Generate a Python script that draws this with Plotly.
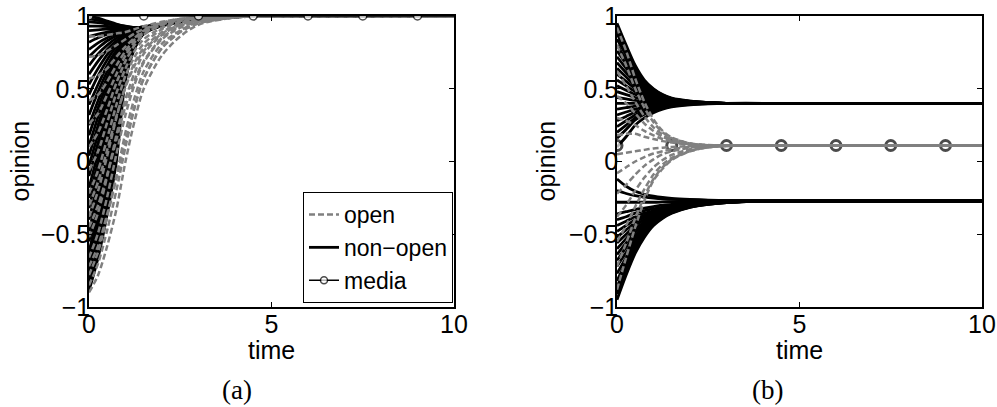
import plotly.graph_objects as go

# ---------------- data ----------------
TIME = [0, 0.25, 0.5, 0.75, 1.0, 1.25, 1.5, 2.0, 2.5, 3.0, 4.0, 5.0, 10.0]

# panel (a): open agents (grey dashed)
A_OPEN = [
    [-0.90, -0.78, -0.58, -0.33, 0.00, 0.28, 0.50, 0.73, 0.86, 0.94, 0.99, 1.0, 1.0],
    [-0.85, -0.70, -0.47, -0.20, 0.10, 0.37, 0.57, 0.78, 0.89, 0.95, 0.99, 1.0, 1.0],
    [-0.78, -0.62, -0.38, -0.10, 0.20, 0.44, 0.62, 0.81, 0.90, 0.96, 0.99, 1.0, 1.0],
    [-0.72, -0.58, -0.36, -0.12, 0.14, 0.38, 0.57, 0.78, 0.89, 0.95, 0.99, 1.0, 1.0],
    [-0.66, -0.49, -0.24, 0.05, 0.32, 0.53, 0.68, 0.84, 0.92, 0.96, 0.995, 1.0, 1.0],
    [-0.52, -0.35, -0.10, 0.18, 0.43, 0.61, 0.74, 0.87, 0.94, 0.97, 0.995, 1.0, 1.0],
    [-0.45, -0.30, -0.09, 0.15, 0.38, 0.56, 0.69, 0.85, 0.93, 0.97, 0.995, 1.0, 1.0],
    [-0.38, -0.20, 0.04, 0.30, 0.52, 0.68, 0.78, 0.89, 0.95, 0.98, 1.0, 1.0, 1.0],
    [-0.30, -0.14, 0.08, 0.31, 0.51, 0.66, 0.76, 0.88, 0.94, 0.97, 0.995, 1.0, 1.0],
    [-0.22, -0.06, 0.16, 0.39, 0.59, 0.72, 0.81, 0.91, 0.96, 0.98, 1.0, 1.0, 1.0],
    [-0.06, 0.07, 0.27, 0.47, 0.64, 0.76, 0.84, 0.92, 0.965, 0.985, 1.0, 1.0, 1.0],
    [0.10, 0.20, 0.36, 0.54, 0.69, 0.80, 0.87, 0.94, 0.97, 0.99, 1.0, 1.0, 1.0],
    [0.26, 0.33, 0.46, 0.60, 0.73, 0.82, 0.88, 0.94, 0.975, 0.99, 1.0, 1.0, 1.0],
    [0.42, 0.46, 0.55, 0.66, 0.76, 0.84, 0.89, 0.95, 0.975, 0.99, 1.0, 1.0, 1.0],
    [0.57, 0.59, 0.64, 0.72, 0.79, 0.85, 0.90, 0.95, 0.98, 0.99, 1.0, 1.0, 1.0],
    [0.72, 0.73, 0.76, 0.80, 0.84, 0.88, 0.91, 0.955, 0.98, 0.99, 1.0, 1.0, 1.0],
    [0.86, 0.86, 0.87, 0.88, 0.89, 0.91, 0.93, 0.96, 0.98, 0.99, 1.0, 1.0, 1.0],
]

# panel (a): non-open agents (black solid)
A_NONOPEN = [
    [1.00, 0.985, 0.965, 0.945, 0.93, 0.92, 0.92, 0.935, 0.96, 0.98, 0.995, 1.0, 1.0],
    [0.98, 0.97, 0.955, 0.94, 0.928, 0.92, 0.921, 0.937, 0.961, 0.98, 0.995, 1.0, 1.0],
    [0.96, 0.955, 0.945, 0.935, 0.925, 0.92, 0.922, 0.94, 0.962, 0.98, 0.995, 1.0, 1.0],
    [0.93, 0.93, 0.928, 0.925, 0.921, 0.92, 0.923, 0.941, 0.963, 0.98, 0.995, 1.0, 1.0],
    [0.90, 0.905, 0.91, 0.915, 0.918, 0.92, 0.925, 0.942, 0.965, 0.98, 0.995, 1.0, 1.0],
    [0.86, 0.875, 0.89, 0.903, 0.91, 0.917, 0.925, 0.944, 0.965, 0.98, 0.995, 1.0, 1.0],
    [0.82, 0.85, 0.875, 0.895, 0.905, 0.915, 0.925, 0.945, 0.965, 0.98, 0.995, 1.0, 1.0],
    [0.77, 0.815, 0.85, 0.878, 0.898, 0.912, 0.923, 0.945, 0.965, 0.98, 0.995, 1.0, 1.0],
    [0.72, 0.78, 0.83, 0.865, 0.89, 0.91, 0.922, 0.945, 0.965, 0.98, 0.995, 1.0, 1.0],
    [0.66, 0.74, 0.80, 0.848, 0.88, 0.905, 0.92, 0.944, 0.965, 0.98, 0.995, 1.0, 1.0],
    [0.60, 0.69, 0.77, 0.83, 0.87, 0.90, 0.918, 0.943, 0.965, 0.98, 0.995, 1.0, 1.0],
    [0.53, 0.64, 0.735, 0.81, 0.86, 0.895, 0.916, 0.942, 0.964, 0.98, 0.995, 1.0, 1.0],
    [0.46, 0.59, 0.70, 0.79, 0.85, 0.89, 0.915, 0.942, 0.964, 0.98, 0.995, 1.0, 1.0],
    [0.39, 0.53, 0.66, 0.765, 0.84, 0.885, 0.913, 0.941, 0.963, 0.98, 0.995, 1.0, 1.0],
    [0.32, 0.48, 0.62, 0.74, 0.83, 0.88, 0.912, 0.94, 0.963, 0.98, 0.995, 1.0, 1.0],
    [0.25, 0.42, 0.58, 0.715, 0.815, 0.875, 0.91, 0.94, 0.962, 0.98, 0.995, 1.0, 1.0],
    [0.18, 0.37, 0.54, 0.69, 0.80, 0.87, 0.91, 0.94, 0.962, 0.98, 0.995, 1.0, 1.0],
    [0.11, 0.31, 0.50, 0.665, 0.79, 0.865, 0.907, 0.94, 0.962, 0.98, 0.995, 1.0, 1.0],
    [0.04, 0.25, 0.46, 0.64, 0.78, 0.86, 0.905, 0.94, 0.962, 0.98, 0.995, 1.0, 1.0],
    [-0.03, 0.19, 0.415, 0.615, 0.765, 0.855, 0.902, 0.94, 0.962, 0.98, 0.995, 1.0, 1.0],
    [-0.10, 0.13, 0.37, 0.59, 0.75, 0.85, 0.90, 0.94, 0.962, 0.98, 0.995, 1.0, 1.0],
    [-0.18, 0.06, 0.325, 0.56, 0.735, 0.845, 0.90, 0.94, 0.961, 0.98, 0.995, 1.0, 1.0],
    [-0.25, 0.00, 0.28, 0.53, 0.72, 0.84, 0.90, 0.94, 0.961, 0.98, 0.995, 1.0, 1.0],
    [-0.32, -0.06, 0.23, 0.50, 0.71, 0.84, 0.898, 0.94, 0.961, 0.98, 0.995, 1.0, 1.0],
    [-0.40, -0.14, 0.18, 0.47, 0.69, 0.83, 0.895, 0.94, 0.961, 0.98, 0.995, 1.0, 1.0],
    [-0.48, -0.21, 0.13, 0.44, 0.68, 0.83, 0.893, 0.94, 0.961, 0.98, 0.995, 1.0, 1.0],
    [-0.55, -0.28, 0.08, 0.40, 0.66, 0.82, 0.89, 0.935, 0.96, 0.98, 0.995, 1.0, 1.0],
    [-0.62, -0.35, 0.01, 0.35, 0.64, 0.81, 0.888, 0.937, 0.96, 0.98, 0.995, 1.0, 1.0],
    [-0.66, -0.39, -0.02, 0.33, 0.63, 0.805, 0.886, 0.936, 0.96, 0.98, 0.995, 1.0, 1.0],
    [-0.70, -0.43, -0.05, 0.30, 0.62, 0.80, 0.885, 0.935, 0.96, 0.98, 0.995, 1.0, 1.0],
    [-0.74, -0.47, -0.10, 0.26, 0.61, 0.795, 0.884, 0.935, 0.96, 0.98, 0.995, 1.0, 1.0],
    [-0.78, -0.52, -0.16, 0.20, 0.60, 0.79, 0.882, 0.935, 0.96, 0.98, 0.995, 1.0, 1.0],
    [-0.82, -0.56, -0.22, 0.14, 0.59, 0.785, 0.881, 0.935, 0.96, 0.98, 0.995, 1.0, 1.0],
    [-0.85, -0.60, -0.30, 0.06, 0.60, 0.78, 0.88, 0.935, 0.96, 0.98, 0.995, 1.0, 1.0],
    [-0.89, -0.66, -0.36, 0.00, 0.56, 0.775, 0.878, 0.934, 0.96, 0.98, 0.995, 1.0, 1.0],
]

# panel (b): open agents (grey dashed)
B_OPEN = [
    [0.92, 0.76, 0.57, 0.41, 0.29, 0.21, 0.165, 0.125, 0.113, 0.11, 0.11, 0.11, 0.11],
    [0.80, 0.66, 0.50, 0.37, 0.27, 0.20, 0.16, 0.123, 0.112, 0.11, 0.11, 0.11, 0.11],
    [0.62, 0.52, 0.41, 0.31, 0.235, 0.185, 0.152, 0.12, 0.112, 0.11, 0.11, 0.11, 0.11],
    [0.45, 0.40, 0.33, 0.26, 0.21, 0.17, 0.145, 0.118, 0.111, 0.11, 0.11, 0.11, 0.11],
    [0.30, 0.28, 0.25, 0.21, 0.18, 0.155, 0.138, 0.117, 0.111, 0.11, 0.11, 0.11, 0.11],
    [0.18, 0.19, 0.19, 0.17, 0.155, 0.14, 0.13, 0.115, 0.11, 0.11, 0.11, 0.11, 0.11],
    [0.05, 0.06, 0.07, 0.08, 0.09, 0.095, 0.10, 0.105, 0.108, 0.11, 0.11, 0.11, 0.11],
    [-0.08, -0.04, 0.00, 0.03, 0.055, 0.07, 0.085, 0.10, 0.107, 0.11, 0.11, 0.11, 0.11],
    [-0.22, -0.16, -0.09, -0.03, 0.015, 0.05, 0.07, 0.095, 0.105, 0.109, 0.11, 0.11, 0.11],
    [-0.38, -0.30, -0.20, -0.11, -0.04, 0.01, 0.045, 0.085, 0.102, 0.108, 0.11, 0.11, 0.11],
    [-0.55, -0.44, -0.31, -0.19, -0.09, -0.02, 0.025, 0.078, 0.10, 0.107, 0.11, 0.11, 0.11],
    [-0.72, -0.56, -0.39, -0.24, -0.12, -0.04, 0.015, 0.072, 0.098, 0.107, 0.11, 0.11, 0.11],
    [-0.88, -0.66, -0.45, -0.27, -0.13, -0.05, 0.01, 0.07, 0.097, 0.106, 0.11, 0.11, 0.11],
]

# panel (b): non-open agents, upper cluster (black solid)
B_NONOPEN_UPPER = [
    [0.95, 0.80, 0.66, 0.56, 0.50, 0.46, 0.435, 0.415, 0.405, 0.40, 0.40, 0.40, 0.40],
    [0.91, 0.78, 0.645, 0.55, 0.495, 0.457, 0.433, 0.414, 0.405, 0.40, 0.40, 0.40, 0.40],
    [0.88, 0.75, 0.63, 0.54, 0.49, 0.455, 0.432, 0.413, 0.405, 0.40, 0.40, 0.40, 0.40],
    [0.84, 0.73, 0.615, 0.53, 0.482, 0.45, 0.428, 0.411, 0.404, 0.40, 0.40, 0.40, 0.40],
    [0.80, 0.70, 0.60, 0.52, 0.475, 0.445, 0.425, 0.41, 0.403, 0.40, 0.40, 0.40, 0.40],
    [0.76, 0.67, 0.58, 0.51, 0.467, 0.44, 0.422, 0.409, 0.402, 0.40, 0.40, 0.40, 0.40],
    [0.72, 0.64, 0.56, 0.50, 0.46, 0.437, 0.42, 0.408, 0.402, 0.40, 0.40, 0.40, 0.40],
    [0.68, 0.61, 0.54, 0.488, 0.452, 0.432, 0.418, 0.407, 0.401, 0.40, 0.40, 0.40, 0.40],
    [0.64, 0.58, 0.52, 0.475, 0.445, 0.428, 0.416, 0.406, 0.401, 0.40, 0.40, 0.40, 0.40],
    [0.60, 0.55, 0.50, 0.462, 0.437, 0.424, 0.414, 0.405, 0.401, 0.40, 0.40, 0.40, 0.40],
    [0.56, 0.52, 0.48, 0.45, 0.43, 0.42, 0.412, 0.405, 0.401, 0.40, 0.40, 0.40, 0.40],
    [0.52, 0.49, 0.46, 0.437, 0.422, 0.415, 0.408, 0.403, 0.40, 0.40, 0.40, 0.40, 0.40],
    [0.48, 0.46, 0.44, 0.425, 0.415, 0.41, 0.405, 0.402, 0.40, 0.40, 0.40, 0.40, 0.40],
    [0.44, 0.43, 0.42, 0.412, 0.407, 0.404, 0.402, 0.401, 0.40, 0.40, 0.40, 0.40, 0.40],
    [0.40, 0.40, 0.40, 0.40, 0.40, 0.40, 0.40, 0.40, 0.40, 0.40, 0.40, 0.40, 0.40],
    [0.36, 0.37, 0.38, 0.388, 0.393, 0.396, 0.398, 0.399, 0.40, 0.40, 0.40, 0.40, 0.40],
    [0.32, 0.34, 0.36, 0.375, 0.385, 0.39, 0.395, 0.398, 0.40, 0.40, 0.40, 0.40, 0.40],
    [0.28, 0.31, 0.34, 0.362, 0.377, 0.385, 0.392, 0.397, 0.40, 0.40, 0.40, 0.40, 0.40],
    [0.24, 0.28, 0.32, 0.35, 0.37, 0.38, 0.39, 0.396, 0.40, 0.40, 0.40, 0.40, 0.40],
    [0.20, 0.25, 0.30, 0.338, 0.36, 0.375, 0.385, 0.395, 0.399, 0.40, 0.40, 0.40, 0.40],
    [0.16, 0.22, 0.285, 0.325, 0.35, 0.37, 0.38, 0.393, 0.398, 0.40, 0.40, 0.40, 0.40],
    [0.10, 0.17, 0.25, 0.30, 0.335, 0.36, 0.375, 0.39, 0.397, 0.40, 0.40, 0.40, 0.40],
]

# panel (b): non-open agents, lower cluster (black solid)
B_NONOPEN_LOWER = [
    [-0.95, -0.78, -0.63, -0.52, -0.44, -0.39, -0.355, -0.315, -0.295, -0.283, -0.273, -0.27, -0.27],
    [-0.91, -0.75, -0.61, -0.507, -0.432, -0.385, -0.352, -0.313, -0.294, -0.282, -0.273, -0.27, -0.27],
    [-0.86, -0.72, -0.59, -0.495, -0.425, -0.38, -0.35, -0.312, -0.293, -0.282, -0.273, -0.27, -0.27],
    [-0.82, -0.69, -0.57, -0.482, -0.418, -0.375, -0.346, -0.31, -0.291, -0.281, -0.272, -0.27, -0.27],
    [-0.77, -0.66, -0.55, -0.47, -0.41, -0.37, -0.343, -0.308, -0.29, -0.28, -0.272, -0.27, -0.27],
    [-0.72, -0.625, -0.53, -0.455, -0.402, -0.365, -0.34, -0.306, -0.289, -0.279, -0.272, -0.27, -0.27],
    [-0.68, -0.59, -0.51, -0.44, -0.395, -0.36, -0.337, -0.305, -0.288, -0.279, -0.272, -0.27, -0.27],
    [-0.64, -0.56, -0.487, -0.428, -0.388, -0.355, -0.333, -0.303, -0.287, -0.278, -0.272, -0.27, -0.27],
    [-0.60, -0.53, -0.465, -0.415, -0.38, -0.35, -0.33, -0.302, -0.286, -0.278, -0.272, -0.27, -0.27],
    [-0.56, -0.50, -0.44, -0.40, -0.37, -0.345, -0.325, -0.30, -0.285, -0.277, -0.271, -0.27, -0.27],
    [-0.52, -0.47, -0.42, -0.385, -0.36, -0.34, -0.32, -0.298, -0.284, -0.277, -0.271, -0.27, -0.27],
    [-0.48, -0.44, -0.40, -0.37, -0.35, -0.333, -0.315, -0.296, -0.283, -0.276, -0.271, -0.27, -0.27],
    [-0.44, -0.41, -0.38, -0.355, -0.34, -0.325, -0.31, -0.293, -0.282, -0.276, -0.271, -0.27, -0.27],
    [-0.40, -0.38, -0.355, -0.338, -0.325, -0.313, -0.303, -0.289, -0.28, -0.275, -0.27, -0.27, -0.27],
    [-0.36, -0.345, -0.33, -0.32, -0.31, -0.30, -0.295, -0.285, -0.278, -0.274, -0.27, -0.27, -0.27],
    [-0.28, -0.28, -0.28, -0.28, -0.28, -0.278, -0.276, -0.274, -0.272, -0.271, -0.27, -0.27, -0.27],
    [-0.20, -0.22, -0.235, -0.245, -0.252, -0.257, -0.26, -0.264, -0.267, -0.269, -0.27, -0.27, -0.27],
    [-0.12, -0.17, -0.205, -0.225, -0.238, -0.247, -0.253, -0.26, -0.265, -0.268, -0.27, -0.27, -0.27],
]

# media
MEDIA_TIME = [0, 1.5, 3, 4.5, 6, 7.5, 9, 10]
MEDIA_MARKED = [True, True, True, True, True, True, True, False]
A_MEDIA = [1.0, 1.0, 1.0, 1.0, 1.0, 1.0, 1.0, 1.0]
B_MEDIA = [0.11, 0.11, 0.11, 0.11, 0.11, 0.11, 0.11, 0.11]

X_TICKS = [0, 5, 10]
Y_TICKS = [-1, -0.5, 0, 0.5, 1]

# ---------------- style ----------------
W, H = 997, 407
GREY = "#808080"
SANS = "Liberation Sans, Arial, Helvetica, sans-serif"
SERIF = "Liberation Serif, Times New Roman, serif"
DASH = "6px,3px"
FS = 25


def px_x(p):
    return p / W


def px_y(p):
    return 1 - p / H


fig = go.Figure()


def add_group(rows, xa, ya, color, width, dash, name, show, rank):
    for i, row in enumerate(rows):
        fig.add_trace(go.Scatter(
            x=TIME, y=row, mode="lines", xaxis=xa, yaxis=ya,
            line=dict(color=color, width=width, dash=dash, shape="spline", smoothing=0.8),
            name=name, legendgroup=name, legendrank=rank,
            showlegend=(show and i == 0), hoverinfo="skip"))


def add_media(level, xa, ya, line_on, msize, mwidth, show):
    sizes = [msize if m else 0 for m in MEDIA_MARKED]
    fig.add_trace(go.Scatter(
        x=MEDIA_TIME, y=level, xaxis=xa, yaxis=ya,
        mode="lines+markers" if line_on else "markers",
        line=dict(color="black", width=1.5),
        marker=dict(symbol="circle", size=sizes, color="white",
                    line=dict(color="black", width=mwidth)),
        name="media", legendgroup="media", legendrank=3,
        showlegend=show, hoverinfo="skip"))


# panel (a)
add_group(A_NONOPEN, "x", "y", "black", 2.8, "solid", "non\u2212open", True, 2)
add_group(A_OPEN, "x", "y", GREY, 2.5, DASH, "open", True, 1)
add_media(A_MEDIA, "x", "y", True, 8, 1.5, True)

# panel (b)
add_group(B_NONOPEN_UPPER, "x2", "y2", "black", 2.8, "solid", "non\u2212open", False, 2)
add_group(B_NONOPEN_LOWER, "x2", "y2", "black", 2.8, "solid", "non\u2212open", False, 2)
add_media(B_MEDIA, "x2", "y2", False, 10, 3, False)
add_group(B_OPEN, "x2", "y2", GREY, 2.5, DASH, "open", False, 1)

axis_common = dict(
    showline=True, linecolor="black", linewidth=1.5, mirror="ticks",
    ticks="inside", ticklen=5, tickwidth=1, tickcolor="black",
    showgrid=False, zeroline=False, automargin=False,
    tickfont=dict(family=SANS, size=FS, color="black"),
)

top, bottom = 16, 307
ydom = [px_y(bottom), px_y(top)]

fig.update_layout(
    template="none",
    width=W, height=H, margin=dict(l=0, r=0, t=0, b=0, pad=0),
    paper_bgcolor="white", plot_bgcolor="white",
    xaxis=dict(domain=[px_x(89), px_x(454)], range=[0, 10], tickvals=X_TICKS,
               anchor="y", ticklabelstandoff=-6, **axis_common),
    yaxis=dict(domain=ydom, range=[-1, 1], tickvals=Y_TICKS, anchor="x",
               ticklabelstandoff=-8, **axis_common),
    xaxis2=dict(domain=[px_x(617), px_x(982)], range=[0, 10], tickvals=X_TICKS,
                anchor="y2", ticklabelstandoff=-6, **axis_common),
    yaxis2=dict(domain=ydom, range=[-1, 1], tickvals=Y_TICKS, anchor="x2",
                ticklabelstandoff=-8, **axis_common),
    legend=dict(x=px_x(453), xanchor="right", y=px_y(303), yanchor="bottom",
                bgcolor="white", bordercolor="black", borderwidth=1,
                font=dict(family=SANS, size=23, color="black"),
                itemwidth=30, tracegroupgap=0),
    showlegend=True,
)

annotations = [
    dict(text="time", x=px_x(271.5), y=px_y(350)),
    dict(text="time", x=px_x(799.5), y=px_y(350)),
    dict(text="opinion", x=px_x(20), y=px_y(161.5), textangle=-90),
    dict(text="opinion", x=px_x(546), y=px_y(161.5), textangle=-90),
]
for a in annotations:
    fig.add_annotation(xref="paper", yref="paper", showarrow=False,
                       xanchor="center", yanchor="middle",
                       font=dict(family=SANS, size=FS, color="black"), **a)

for txt, xc in [("(a)", 237), ("(b)", 767)]:
    fig.add_annotation(text=txt, xref="paper", yref="paper", x=px_x(xc), y=px_y(390),
                       showarrow=False, xanchor="center", yanchor="middle",
                       font=dict(family=SERIF, size=27, color="black"))

fig.write_html("out.html", config={"displayModeBar": False},
               post_script="document.body.style.margin='0';")
